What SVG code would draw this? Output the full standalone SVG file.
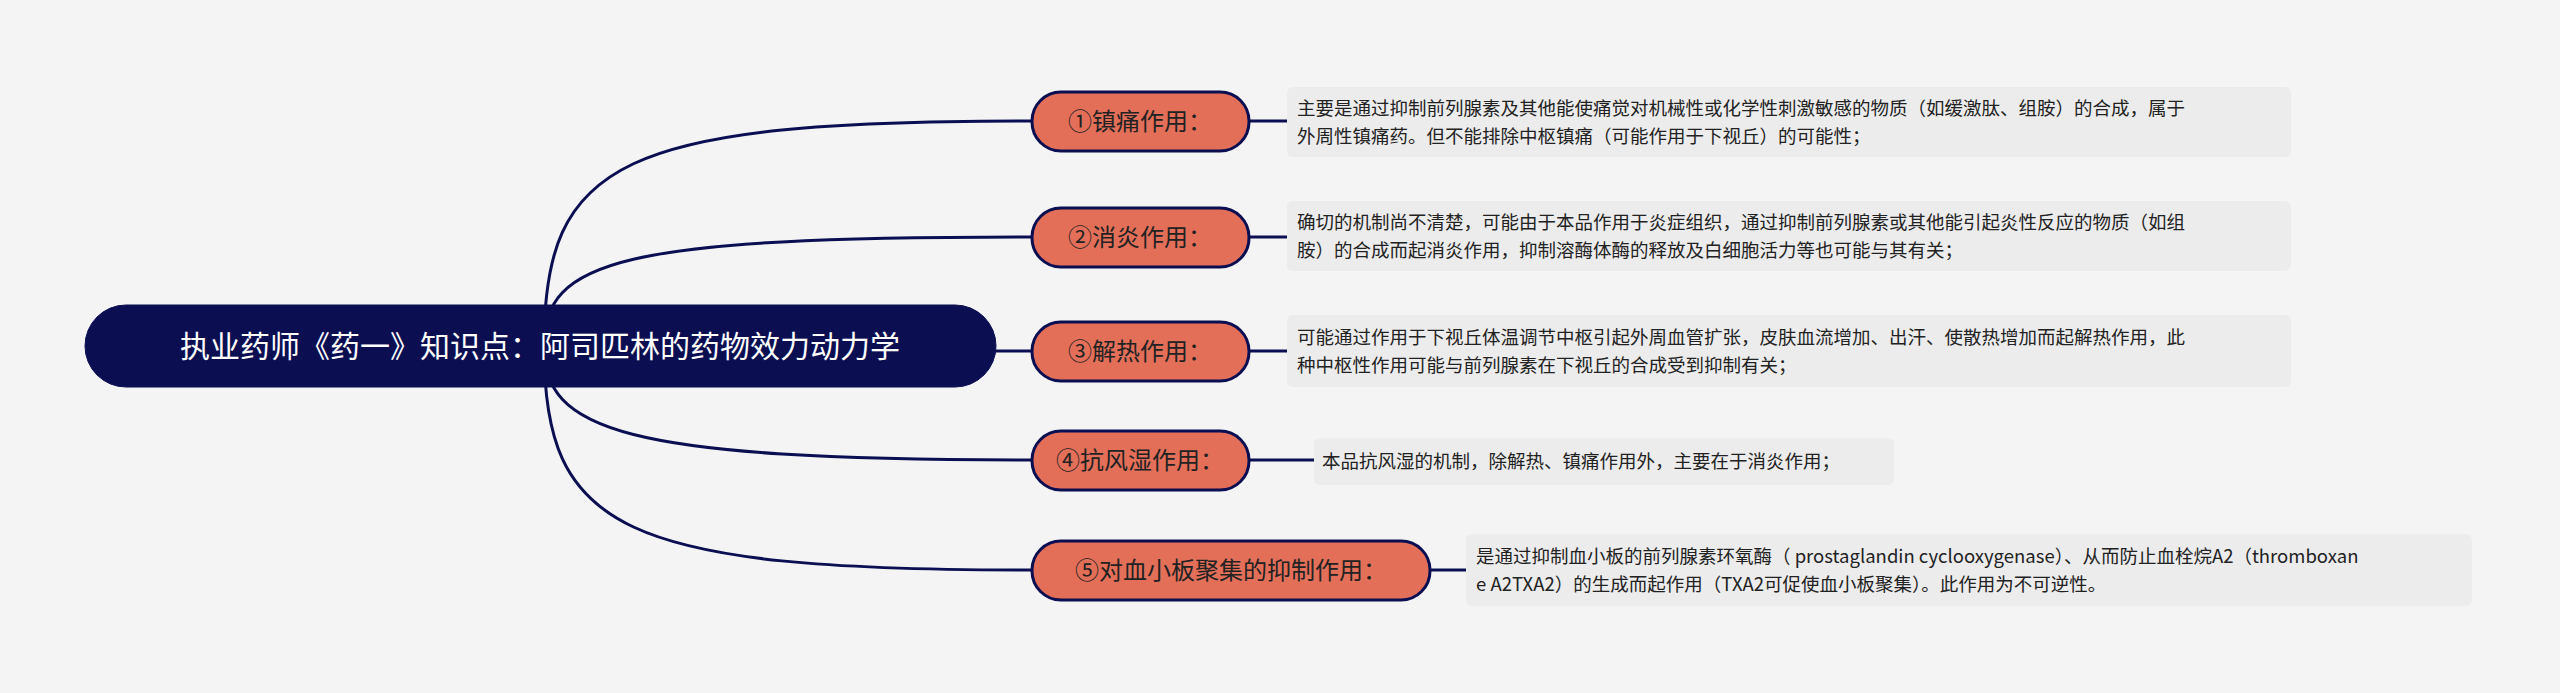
<svg xmlns="http://www.w3.org/2000/svg" width="2560" height="693" viewBox="0 0 2560 693">
<style>
.root{fill:#0b0f52;stroke:#0b0f52}
.rt{font-family:"Noto Sans CJK SC",sans-serif;font-size:30px;fill:#fff}
.br{fill:#e36f59;stroke:#0b0f52;stroke-width:3}
.bt{font-family:"Noto Sans CJK SC",sans-serif;font-size:24px;fill:#222}
.box{fill:#ececec}
.tt{font-family:"Noto Sans CJK SC",sans-serif;font-size:18.5px;fill:#222}
.c{fill:none;stroke:#0b0f52;stroke-width:3}
</style>
<rect width="2560" height="693" fill="#f4f4f4"/>
<g id="connectors">
<path class="c" d="M544,346 C544,160 620,121 1032,121"/>
<path class="c" d="M544,346 C544,260 620,237 1032,237"/>
<path class="c" d="M544,346 C600,351 800,351 1032,351"/>
<path class="c" d="M544,346 C544,430 620,460 1032,460"/>
<path class="c" d="M544,346 C544,530 620,570 1032,570"/>
<path class="c" d="M1249,121 H1287"/>
<path class="c" d="M1249,237 H1287"/>
<path class="c" d="M1249,351 H1287"/>
<path class="c" d="M1249,460 H1314"/>
<path class="c" d="M1430,570 H1466"/>
</g>
<g id="root"><rect class="root" x="85" y="305" width="911" height="82" rx="41"/><text class="rt" x="540" y="357" text-anchor="middle">执业药师《药一》知识点：阿司匹林的药物效力动力学</text></g>
<g id="n1"><rect class="br" x="1032" y="92" width="217" height="59" rx="29"/><text class="bt" x="1140" y="130" text-anchor="middle">①镇痛作用：</text></g>
<g id="n2"><rect class="br" x="1032" y="208" width="217" height="59" rx="29"/><text class="bt" x="1140" y="246" text-anchor="middle">②消炎作用：</text></g>
<g id="n3"><rect class="br" x="1032" y="322" width="217" height="59" rx="29"/><text class="bt" x="1140" y="360" text-anchor="middle">③解热作用：</text></g>
<g id="n4"><rect class="br" x="1032" y="431" width="217" height="59" rx="29"/><text class="bt" x="1140" y="469" text-anchor="middle">④抗风湿作用：</text></g>
<g id="n5"><rect class="br" x="1032" y="541" width="398" height="59" rx="29"/><text class="bt" x="1231" y="579" text-anchor="middle">⑤对血小板聚集的抑制作用：</text></g>
<g id="t1"><rect class="box" x="1287" y="87" width="1004" height="70" rx="6"/><text class="tt" x="1297" y="115">主要是通过抑制前列腺素及其他能使痛觉对机械性或化学性刺激敏感的物质（如缓激肽、组胺）的合成，属于</text><text class="tt" x="1297" y="143">外周性镇痛药。但不能排除中枢镇痛（可能作用于下视丘）的可能性；</text></g>
<g id="t2"><rect class="box" x="1287" y="201" width="1004" height="70" rx="6"/><text class="tt" x="1297" y="229">确切的机制尚不清楚，可能由于本品作用于炎症组织，通过抑制前列腺素或其他能引起炎性反应的物质（如组</text><text class="tt" x="1297" y="257">胺）的合成而起消炎作用，抑制溶酶体酶的释放及白细胞活力等也可能与其有关；</text></g>
<g id="t3"><rect class="box" x="1287" y="315" width="1004" height="72" rx="6"/><text class="tt" x="1297" y="344">可能通过作用于下视丘体温调节中枢引起外周血管扩张，皮肤血流增加、出汗、使散热增加而起解热作用，此</text><text class="tt" x="1297" y="372">种中枢性作用可能与前列腺素在下视丘的合成受到抑制有关；</text></g>
<g id="t4"><rect class="box" x="1314" y="438" width="580" height="47" rx="6"/><text class="tt" x="1322" y="468">本品抗风湿的机制，除解热、镇痛作用外，主要在于消炎作用；</text></g>
<g id="t5"><rect class="box" x="1466" y="534" width="1006" height="72" rx="6"/><text class="tt" x="1476" y="563">是通过抑制血小板的前列腺素环氧酶（ prostaglandin cyclooxygenase）、从而防止血栓烷A2（thromboxan</text><text class="tt" x="1476" y="591">e A2TXA2）的生成而起作用（TXA2可促使血小板聚集）。此作用为不可逆性。</text></g>
</svg>
